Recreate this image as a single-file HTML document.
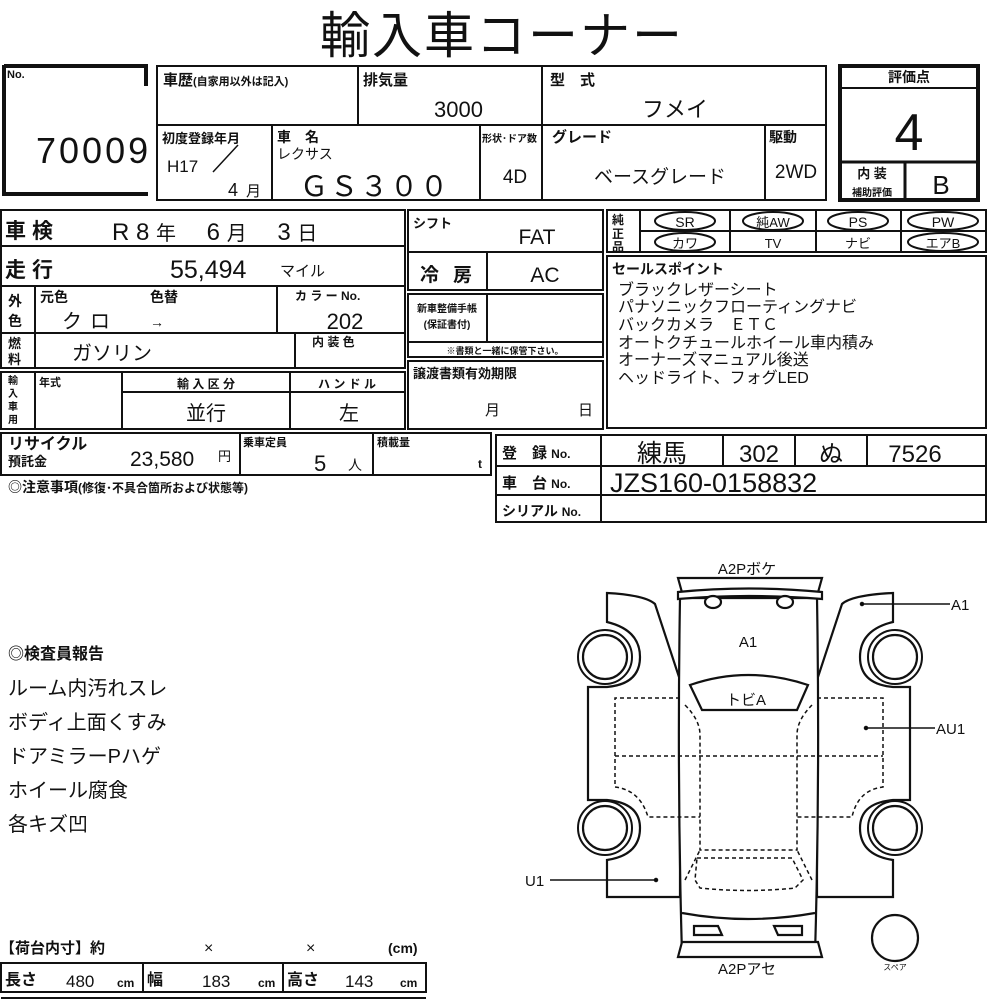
<!DOCTYPE html>
<html><head><meta charset="utf-8"><style>
html,body{margin:0;padding:0;background:#fff;}
svg{display:block}
text{font-family:"Liberation Sans","Noto Sans CJK JP",sans-serif;fill:#111}
.b{font-weight:bold}
</style></head><body>
<svg width="1000" height="1000" viewBox="0 0 1000 1000" xmlns="http://www.w3.org/2000/svg">
<g stroke="#111" stroke-width="2" fill="none">
<path d="M4 65 V194 H148" stroke-width="4"/>
<path d="M4 66 H146 V86" stroke-width="4"/>
<rect x="157" y="66" width="669" height="134"/>
<line x1="157" y1="125" x2="826" y2="125"/>
<line x1="358" y1="66" x2="358" y2="125"/>
<line x1="542" y1="66" x2="542" y2="200"/>
<line x1="272" y1="125" x2="272" y2="200"/>
<line x1="480" y1="125" x2="480" y2="200"/>
<line x1="765" y1="125" x2="765" y2="200"/>
<line x1="213" y1="172" x2="238" y2="145" stroke-width="1.5"/>
<rect x="840" y="66" width="138" height="134" stroke-width="4"/>
<line x1="840" y1="88" x2="978" y2="88"/>
<line x1="840" y1="162" x2="978" y2="162" stroke-width="3"/>
<line x1="905" y1="162" x2="905" y2="200" stroke-width="3"/>
<rect x="1" y="210" width="404" height="123"/>
<line x1="1" y1="246" x2="405" y2="246"/>
<line x1="1" y1="286" x2="405" y2="286"/>
<line x1="35" y1="286" x2="35" y2="368"/>
<line x1="277" y1="286" x2="277" y2="332"/>
<rect x="1" y="333" width="404" height="35"/>
<line x1="295" y1="333" x2="295" y2="368"/>
<rect x="1" y="372" width="404" height="57"/>
<line x1="35" y1="372" x2="35" y2="429"/>
<line x1="122" y1="372" x2="122" y2="429"/>
<line x1="290" y1="372" x2="290" y2="429"/>
<line x1="122" y1="392" x2="405" y2="392"/>
<rect x="1" y="433" width="490" height="42"/>
<line x1="240" y1="433" x2="240" y2="475"/>
<line x1="373" y1="433" x2="373" y2="475"/>
<rect x="408" y="210" width="195" height="80"/>
<line x1="408" y1="252" x2="603" y2="252"/>
<line x1="487" y1="252" x2="487" y2="290"/>
<rect x="408" y="294" width="195" height="63"/>
<line x1="408" y1="342" x2="603" y2="342"/>
<line x1="487" y1="294" x2="487" y2="342"/>
<rect x="408" y="361" width="195" height="68"/>
<rect x="607" y="210" width="379" height="42"/>
<line x1="640" y1="231" x2="986" y2="231"/>
<line x1="640" y1="210" x2="640" y2="252"/>
<line x1="730" y1="210" x2="730" y2="252"/>
<line x1="816" y1="210" x2="816" y2="252"/>
<line x1="901" y1="210" x2="901" y2="252"/>
<ellipse cx="685" cy="221" rx="30" ry="9"/>
<ellipse cx="773" cy="221" rx="30" ry="9"/>
<ellipse cx="858" cy="221" rx="30" ry="9"/>
<ellipse cx="943" cy="221" rx="35" ry="9"/>
<ellipse cx="685" cy="242" rx="30" ry="9"/>
<ellipse cx="943" cy="242" rx="35" ry="9"/>
<rect x="607" y="256" width="379" height="172"/>
<rect x="496" y="435" width="490" height="87"/>
<line x1="496" y1="466" x2="986" y2="466"/>
<line x1="496" y1="495" x2="986" y2="495"/>
<line x1="601" y1="435" x2="601" y2="522"/>
<line x1="723" y1="435" x2="723" y2="466"/>
<line x1="795" y1="435" x2="795" y2="466"/>
<line x1="867" y1="435" x2="867" y2="466"/>
<rect x="1" y="963" width="425" height="29"/>
<line x1="143" y1="963" x2="143" y2="992"/>
<line x1="283" y1="963" x2="283" y2="992"/>
<line x1="1" y1="998" x2="426" y2="998"/>
</g>
<g stroke="#111" stroke-width="2.2" fill="#fff">
<path d="M607 593 L607 622 Q640 630 640 657 Q640 684 607 687 L588 687 L588 800 L607 800 Q640 803 640 828 Q640 855 607 860 L607 897 L680 897 L680 680 L655 604 Q645 595 607 593Z"/>
<path d="M893 593 L893 622 Q860 630 860 657 Q860 684 893 687 L910 687 L910 800 L893 800 Q860 803 860 828 Q860 855 893 860 L893 897 L817 897 L817 680 L842 604 Q852 595 893 593Z"/>
<path d="M680 598 Q677 780 682 955 L815 955 Q820 780 817 598Z"/>
<circle cx="605" cy="657" r="22"/><circle cx="605" cy="828" r="22"/>
<circle cx="895" cy="657" r="22"/><circle cx="895" cy="828" r="22"/>
<circle cx="895" cy="938" r="23"/>
<path d="M678 578 L822 578 L817 596 L683 596Z"/>
<path d="M678 592 Q748 585 822 592 L822 599 Q748 593 678 599Z"/>
<path d="M678 957 L822 957 L818 942 L682 942Z"/>
<path d="M682 913 Q748 925 815 913"/>
<path d="M690 685 Q748 665 808 685 L797 710 L702 710Z"/>
<ellipse cx="713" cy="602" rx="8" ry="6"/><ellipse cx="785" cy="602" rx="8" ry="6"/>
<path d="M694 926 H718 L722 935 H694Z"/><path d="M774 926 H802 V935 H778Z"/>
</g>
<g stroke="#111" stroke-width="2" fill="none">
<circle cx="605" cy="657" r="27"/><circle cx="605" cy="828" r="27"/>
<circle cx="895" cy="657" r="27"/><circle cx="895" cy="828" r="27"/>
</g>
<g stroke="#111" stroke-width="1.5" fill="none" stroke-dasharray="4,3">
<path d="M680 698 H615 V787 Q640 790 648 817 H700"/>
<path d="M817 698 H883 V787 Q858 790 852 817 H797"/>
<line x1="615" y1="756" x2="883" y2="756"/>
<path d="M685 705 Q700 720 700 735 V850 H797 V735 Q797 720 812 705"/>
<path d="M685 880 L700 850 M812 880 L797 850"/>
<path d="M697 858 H792 L803 880 L795 888 Q748 893 700 888 L695 880Z"/>
</g>
<g stroke="#111" stroke-width="1.5">
<line x1="862" y1="604" x2="950" y2="604"/><circle cx="862" cy="604" r="1.5"/>
<line x1="866" y1="728" x2="935" y2="728"/><circle cx="866" cy="728" r="1.5"/>
<line x1="550" y1="880" x2="656" y2="880"/><circle cx="656" cy="880" r="1.5"/>
</g>
<text x="502" y="53" font-size="50" text-anchor="middle" letter-spacing="2">輸入車コーナー</text>
<text x="7" y="78" font-size="11" class="b">No.</text>
<text x="36" y="163" font-size="36" letter-spacing="3">70009</text>
<text x="163" y="85" font-size="15" class="b">車歴<tspan font-size="11">(自家用以外は記入)</tspan></text>
<text x="363" y="85" font-size="15" class="b">排気量</text>
<text x="483" y="117" font-size="22" text-anchor="end">3000</text>
<text x="550" y="85" font-size="15" class="b">型　式</text>
<text x="675" y="117" font-size="22" text-anchor="middle">フメイ</text>
<text x="162" y="143" font-size="13" class="b">初度登録年月</text>
<text x="167" y="172" font-size="17">H17</text>
<text x="228" y="196" font-size="18">4</text><text x="246" y="196" font-size="15">月</text>
<text x="277" y="142" font-size="14" class="b">車　名</text>
<text x="277" y="159" font-size="14">レクサス</text>
<text x="300" y="196" font-size="28" letter-spacing="2">ＧＳ３００</text>
<text x="482" y="142" font-size="10" class="b">形状･ドア数</text>
<text x="515" y="183" font-size="19" text-anchor="middle">4D</text>
<text x="552" y="142" font-size="15" class="b">グレード</text>
<text x="660" y="183" font-size="19" text-anchor="middle">ベースグレード</text>
<text x="769" y="142" font-size="14" class="b">駆動</text>
<text x="796" y="178" font-size="19" text-anchor="middle">2WD</text>
<text x="909" y="82" font-size="14" class="b" text-anchor="middle">評価点</text>
<text x="909" y="150" font-size="52" text-anchor="middle">4</text>
<text x="872" y="178" font-size="13" class="b" text-anchor="middle">内 装</text>
<text x="872" y="196" font-size="10" class="b" text-anchor="middle">補助評価</text>
<text x="941" y="194" font-size="26" text-anchor="middle">B</text>
<text x="5" y="238" font-size="21" class="b" letter-spacing="6">車検</text>
<text x="112" y="240" font-size="24">R 8 <tspan font-size="20">年</tspan>　 6 <tspan font-size="20">月</tspan>　  3 <tspan font-size="20">日</tspan></text>
<text x="5" y="277" font-size="21" class="b" letter-spacing="6">走行</text>
<text x="170" y="278" font-size="25">55,494</text><text x="280" y="276" font-size="15">マイル</text>
<text x="8" y="306" font-size="14" class="b">外</text><text x="8" y="326" font-size="14" class="b">色</text>
<text x="40" y="302" font-size="14" class="b">元色</text><text x="150" y="302" font-size="14" class="b">色替</text>
<text x="62" y="328" font-size="20" letter-spacing="8">クロ</text><text x="150" y="327" font-size="14">→</text>
<text x="295" y="300" font-size="12" class="b">カ ラ ー No.</text>
<text x="345" y="329" font-size="22" text-anchor="middle">202</text>
<text x="8" y="348" font-size="13" class="b">燃</text><text x="8" y="364" font-size="13" class="b">料</text>
<text x="72" y="360" font-size="20">ガソリン</text>
<text x="312" y="346" font-size="12" class="b">内 装 色</text>
<text x="8" y="384" font-size="10" class="b">輸</text><text x="8" y="397" font-size="10" class="b">入</text><text x="8" y="410" font-size="10" class="b">車</text><text x="8" y="423" font-size="10" class="b">用</text>
<text x="39" y="386" font-size="11" class="b">年式</text>
<text x="206" y="388" font-size="12" class="b" text-anchor="middle">輸 入 区 分</text>
<text x="347" y="388" font-size="12" class="b" text-anchor="middle">ハ ン ド ル</text>
<text x="206" y="420" font-size="20" text-anchor="middle">並行</text>
<text x="349" y="420" font-size="20" text-anchor="middle">左</text>
<text x="8" y="449" font-size="16" class="b">リサイクル</text>
<text x="8" y="466" font-size="13" class="b">預託金</text>
<text x="130" y="466" font-size="21">23,580</text><text x="218" y="461" font-size="13">円</text>
<text x="243" y="446" font-size="11" class="b">乗車定員</text>
<text x="314" y="471" font-size="22">5</text><text x="348" y="470" font-size="14">人</text>
<text x="377" y="446" font-size="11" class="b">積載量</text>
<text x="478" y="468" font-size="12" class="b">t</text>
<text x="8" y="492" font-size="14" class="b">◎注意事項<tspan font-size="12">(修復･不具合箇所および状態等)</tspan></text>
<text x="413" y="228" font-size="13" class="b">シフト</text>
<text x="537" y="244" font-size="21" text-anchor="middle">FAT</text>
<text x="420" y="281" font-size="19" class="b" letter-spacing="14">冷房</text>
<text x="545" y="282" font-size="21" text-anchor="middle">AC</text>
<text x="447" y="312" font-size="10" class="b" text-anchor="middle">新車整備手帳</text>
<text x="447" y="328" font-size="10" class="b" text-anchor="middle">(保証書付)</text>
<text x="505" y="354" font-size="9" class="b" text-anchor="middle">※書類と一緒に保管下さい。</text>
<text x="413" y="378" font-size="13" class="b">譲渡書類有効期限</text>
<text x="485" y="415" font-size="15">月</text><text x="578" y="415" font-size="15">日</text>
<text x="612" y="224" font-size="12" class="b">純</text><text x="612" y="238" font-size="12" class="b">正</text><text x="612" y="251" font-size="12" class="b">品</text>
<text x="685" y="227" font-size="14" text-anchor="middle">SR</text>
<text x="773" y="227" font-size="13" text-anchor="middle">純AW</text>
<text x="858" y="227" font-size="14" text-anchor="middle">PS</text>
<text x="943" y="227" font-size="14" text-anchor="middle">PW</text>
<text x="685" y="248" font-size="13" text-anchor="middle">カワ</text>
<text x="773" y="248" font-size="13" text-anchor="middle">TV</text>
<text x="858" y="248" font-size="13" text-anchor="middle">ナビ</text>
<text x="943" y="248" font-size="13" text-anchor="middle">エアB</text>
<text x="612" y="274" font-size="14" class="b">セールスポイント</text>
<g font-size="16">
<text x="618" y="295">ブラックレザーシート</text>
<text x="618" y="312">パナソニックフローティングナビ</text>
<text x="618" y="330">バックカメラ　ＥＴＣ</text>
<text x="618" y="348">オートクチュールホイール車内積み</text>
<text x="618" y="365">オーナーズマニュアル後送</text>
<text x="618" y="383">ヘッドライト、フォグLED</text>
</g>
<text x="502" y="458" font-size="15" class="b">登　録 <tspan font-size="12">No.</tspan></text>
<text x="502" y="488" font-size="15" class="b">車　台 <tspan font-size="12">No.</tspan></text>
<text x="502" y="516" font-size="14" class="b">シリアル <tspan font-size="12">No.</tspan></text>
<text x="662" y="462" font-size="25" text-anchor="middle">練馬</text>
<text x="759" y="462" font-size="24" text-anchor="middle">302</text>
<text x="831" y="462" font-size="24" text-anchor="middle">ぬ</text>
<text x="915" y="462" font-size="24" text-anchor="middle">7526</text>
<text x="610" y="492" font-size="27">JZS160-0158832</text>
<text x="8" y="659" font-size="16" class="b">◎検査員報告</text>
<g font-size="20">
<text x="8" y="695">ルーム内汚れスレ</text>
<text x="8" y="729">ボディ上面くすみ</text>
<text x="8" y="763">ドアミラーPハゲ</text>
<text x="8" y="797">ホイール腐食</text>
<text x="8" y="831">各キズ凹</text>
</g>
<g font-size="15">
<text x="747" y="574" text-anchor="middle">A2Pボケ</text>
<text x="748" y="647" text-anchor="middle">A1</text>
<text x="746" y="705" text-anchor="middle">トビA</text>
<text x="747" y="974" text-anchor="middle">A2Pアセ</text>
<text x="951" y="610">A1</text>
<text x="936" y="734">AU1</text>
<text x="525" y="886">U1</text>
</g>
<text x="895" y="970" font-size="8" text-anchor="middle">スペア</text>
<text x="0" y="953" font-size="15" class="b">【荷台内寸】約</text>
<text x="204" y="953" font-size="16">×</text><text x="306" y="953" font-size="16">×</text>
<text x="388" y="953" font-size="14" class="b">(cm)</text>
<text x="5" y="985" font-size="16" class="b">長さ</text><text x="66" y="987" font-size="17">480</text><text x="117" y="987" font-size="12" class="b">cm</text>
<text x="147" y="985" font-size="16" class="b">幅</text><text x="202" y="987" font-size="17">183</text><text x="258" y="987" font-size="12" class="b">cm</text>
<text x="287" y="985" font-size="16" class="b">高さ</text><text x="345" y="987" font-size="17">143</text><text x="400" y="987" font-size="12" class="b">cm</text>
</svg>
</body></html>
